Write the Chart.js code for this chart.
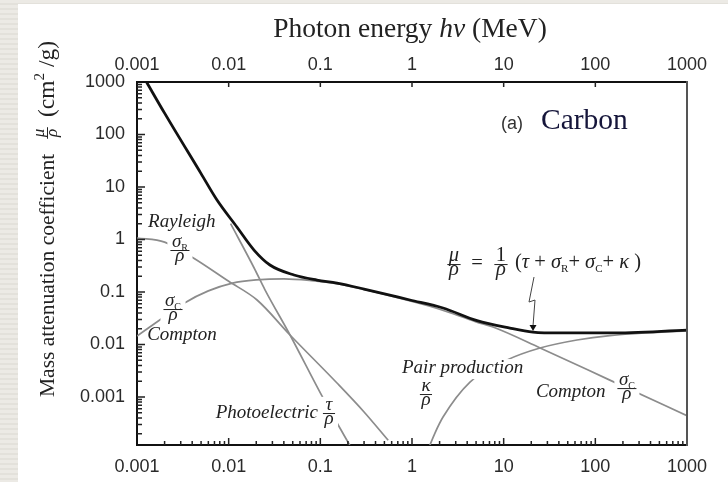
<!DOCTYPE html>
<html>
<head>
<meta charset="utf-8">
<script src="https://cdn.jsdelivr.net/npm/chart.js@4.4.0/dist/chart.umd.min.js"></script>
<style>
  html, body { margin: 0; padding: 0; }
  body {
    width: 728px; height: 482px; overflow: hidden; position: relative;
    background: repeating-linear-gradient(to bottom, #eceae5 0px, #eceae5 3px, #e3e1db 3px, #e3e1db 5px);
  }
  #panel { position: absolute; left: 18px; top: 4px; width: 710px; height: 478px; background: #fff; }
  #wrap { position: absolute; left: 0; top: 0; width: 728px; height: 482px; }
</style>
</head>
<body>
<div id="panel"></div>
<div id="wrap"><canvas id="myChart"></canvas></div>
<script>
// photon energy (MeV) and mass attenuation coefficient (cm2/g) for carbon
const totalE  = [0.00127, 0.002, 0.005, 0.00746, 0.0123, 0.0189, 0.0282, 0.0516, 0.092, 0.152, 0.3, 0.95, 2.18, 5.12, 11.7, 20.9, 41, 144, 1000];
const totalMu = [1000, 255, 18, 5.65, 1.73, 0.63, 0.327, 0.211, 0.169, 0.148, 0.114, 0.0705, 0.0496, 0.0285, 0.0206, 0.0173, 0.0166, 0.0166, 0.0188];

const photoE  = [0.0105, 0.0189, 0.0249, 0.0467, 0.107, 0.195, 0.23];
const photoMu = [2.0, 0.29, 0.11, 0.0152, 0.00096, 0.00015, 0.00009];

const rayleighE  = [0.001, 0.002, 0.004, 0.01, 0.0204, 0.0467, 0.152, 0.3, 0.55];
const rayleighMu = [1.07, 0.89, 0.46, 0.16, 0.0705, 0.0152, 0.00185, 0.00052, 0.00015];

const comptonE  = [0.001, 0.0019, 0.0033, 0.006, 0.011, 0.02, 0.04, 0.08, 0.15, 0.3, 1, 2, 5, 7.65, 25, 144, 1000];
const comptonMu = [0.0145, 0.032, 0.062, 0.105, 0.148, 0.17, 0.178, 0.165, 0.145, 0.112, 0.066, 0.047, 0.027, 0.0215, 0.0086, 0.0021, 0.00044];

const pairE  = [1.5, 1.78, 2.18, 4.29, 10.9, 24.9, 63, 144, 1000];
const pairMu = [0.0001, 0.000206, 0.000416, 0.00193, 0.00507, 0.00857, 0.0122, 0.0148, 0.0182];

const xTicks = [0.001, 0.01, 0.1, 1, 10, 100, 1000];
const xTickLabels = ['0.001', '0.01', '0.1', '1', '10', '100', '1000'];
const yTicks = [0.001, 0.01, 0.1, 1, 10, 100, 1000];
const yTickLabels = ['0.001', '0.01', '0.1', '1', '10', '100', '1000'];

const serif = '"Liberation Serif", "Times New Roman", serif';
const sans = '"Liberation Sans", Arial, sans-serif';
const ink = '#222';
const gray = '#8c8c8c';

function font(size, style) { return (style ? style + ' ' : '') + size + 'px ' + serif; }
const rm = (t, s) => ({t: t, font: font(s)});
const it = (t, s) => ({t: t, font: font(s, 'italic')});
const sub = (t, s) => ({t: t, font: font(Math.round(s * 0.55)), dy: s * 0.2});
const sup = (t, s) => ({t: t, font: font(Math.round(s * 0.62)), dy: -s * 0.42});

// writes a row of text pieces, returns its width
function run(ctx, pieces, x, y, draw) {
  let w = 0;
  pieces.forEach(p => {
    ctx.font = p.font;
    if (draw) ctx.fillText(p.t, x + w, y + (p.dy || 0));
    w += ctx.measureText(p.t).width;
  });
  return w;
}

function frac(ctx, cx, bar, num, den, size, boxed) {
  const wn = run(ctx, num, 0, 0, false), wd = run(ctx, den, 0, 0, false);
  const w = Math.max(wn, wd) + 3;
  if (boxed) {
    ctx.fillStyle = '#fff';
    ctx.fillRect(cx - w / 2 - 3, bar - size * 0.85, w + 6, size * 1.75);
  }
  ctx.fillStyle = ink;
  run(ctx, num, cx - wn / 2, bar - 3, true);
  run(ctx, den, cx - wd / 2, bar + 2 + size * 0.46, true);
  ctx.strokeStyle = ink; ctx.lineWidth = 1;
  ctx.beginPath(); ctx.moveTo(cx - w / 2, bar + 0.5); ctx.lineTo(cx + w / 2, bar + 0.5); ctx.stroke();
  return w;
}

function text(ctx, pieces, x, y, align, boxed) {
  const w = run(ctx, pieces, 0, 0, false);
  const x0 = align === 'right' ? x - w : align === 'center' ? x - w / 2 : x;
  if (boxed) { ctx.fillStyle = '#fff'; ctx.fillRect(x0 - 2, y - 14, w + 4, 20); }
  ctx.fillStyle = ink;
  run(ctx, pieces, x0, y, true);
}

const decorate = {
  id: 'decorate',
  afterDraw(chart) {
    const {ctx, chartArea: a, scales} = chart;
    const px = e => scales.x.getPixelForValue(e);
    const py = v => scales.y.getPixelForValue(v);
    ctx.save();
    ctx.textBaseline = 'alphabetic';

    // right frame
    ctx.strokeStyle = '#555'; ctx.lineWidth = 2;
    ctx.beginPath(); ctx.moveTo(a.right, a.top - 1); ctx.lineTo(a.right, a.bottom + 1); ctx.stroke();

    // inward tick marks
    ctx.strokeStyle = ink; ctx.lineWidth = 1.5;
    ctx.beginPath();
    for (let d = -3; d < 3; d++) {
      for (let m = 1; m < 10; m++) {
        const x = px(m * Math.pow(10, d));
        if (x <= a.left + 1) continue;
        const len = m === 1 ? 7 : 4;
        ctx.moveTo(x, a.bottom); ctx.lineTo(x, a.bottom - len);
        if (m === 1) { ctx.moveTo(x, a.top); ctx.lineTo(x, a.top + 5); }
      }
    }
    for (let d = -4; d < 3; d++) {
      for (let m = 1; m < 10; m++) {
        const v = m * Math.pow(10, d);
        if (v < scales.y.min) continue;
        const y = py(v);
        const len = m === 1 ? 8 : 5;
        ctx.moveTo(a.left, y); ctx.lineTo(a.left + len, y);
      }
    }
    ctx.stroke();

    // curve labels
    const s = 19;
    text(ctx, [it('Rayleigh', s)], px(0.00132), py(1.73), 'left');
    frac(ctx, px(0.00294), py(0.631), [it('σ', s), sub('R', s)], [it('ρ', s)], s, true);
    frac(ctx, px(0.00247), py(0.0474), [it('σ', s), sub('C', s)], [it('ρ', s)], s, true);
    text(ctx, [it('Compton', s)], px(0.00129), py(0.0122), 'left');
    text(ctx, [it('Photoelectric', s)], px(0.0943), py(0.000398), 'right');
    frac(ctx, px(0.1243), py(0.000496), [it('τ', s)], [it('ρ', s)], s, true);
    text(ctx, [it('Pair production', s)], px(0.778), py(0.00286), 'left', true);
    frac(ctx, px(1.42), py(0.00114), [it('κ', s)], [it('ρ', s)], s, true);
    text(ctx, [it('Compton', s)], px(22.5), py(0.001), 'left');
    frac(ctx, px(221), py(0.00148), [it('σ', s), sub('C', s)], [it('ρ', s)], s, true);

    // sum formula with its pointer to the total curve
    const f = 20.5;
    const fx = px(2.87), fy = py(0.341);
    frac(ctx, fx, fy, [it('μ', f)], [it('ρ', f)], f, false);
    text(ctx, [rm('=', f)], fx + 23, fy + 5, 'center');
    frac(ctx, fx + 47, fy, [rm('1', f)], [it('ρ', f)], f, false);
    text(ctx, [rm('(', f), it('τ', f), rm(' + ', f), it('σ', f), sub('R', f), rm('+ ', f),
               it('σ', f), sub('C', f), rm('+ ', f), it('κ', f), rm(' )', f)], fx + 61, fy + 4, 'left');
    const ax = px(20.9), ay = py(0.0173);
    ctx.strokeStyle = '#444'; ctx.lineWidth = 1;
    ctx.beginPath();
    ctx.moveTo(ax + 1, ay - 55); ctx.lineTo(ax - 4, ay - 30); ctx.lineTo(ax + 2, ay - 32); ctx.lineTo(ax, ay - 6);
    ctx.stroke();
    ctx.fillStyle = '#111';
    ctx.beginPath(); ctx.moveTo(ax - 3.5, ay - 7); ctx.lineTo(ax + 3.5, ay - 7); ctx.lineTo(ax, ay - 1); ctx.closePath(); ctx.fill();

    // panel tag
    ctx.fillStyle = '#333'; ctx.font = '18px ' + sans;
    ctx.fillText('(a)', px(9.35), py(127));
    ctx.fillStyle = '#15153a'; ctx.font = font(29.5);
    ctx.fillText('Carbon', px(9.35) + 40, py(127));

    // top title
    const title = [rm('Photon energy ', 27.5), it('hν', 27.5), rm(' (MeV)', 27.5)];
    const tw = run(ctx, title, 0, 0, false);
    ctx.fillStyle = ink;
    run(ctx, title, 410 - tw / 2, 37, true);

    // vertical title
    ctx.translate(54, 397);
    ctx.rotate(-Math.PI / 2);
    run(ctx, [rm('Mass attenuation coefficient', 21.5)], 0, 0, true);
    frac(ctx, 264, -7, [it('μ', 17)], [it('ρ', 17)], 17, false);
    run(ctx, [rm('(cm', 23.5), sup('2', 23.5), rm(' /g)', 23.5)], 280, 0, true);
    ctx.restore();
  }
};

const pts = (xs, ys) => xs.map((x, i) => ({x: x, y: ys[i]}));
const curve = (label, xs, ys, color, width) => ({
  label: label, data: pts(xs, ys), borderColor: color, borderWidth: width,
  pointRadius: 0, fill: false, cubicInterpolationMode: 'monotone'
});

const tickFont = {family: sans, size: 18};
function logAxis(pos, min, values, labels, fit, pad) {
  return {
    type: 'logarithmic', position: pos, min: min, max: 1000,
    grid: {display: true, drawOnChartArea: false, drawTicks: false},
    border: {display: true, color: '#111', width: 2},
    afterBuildTicks: s => { s.ticks = values.map(v => ({value: v})); },
    afterFit: fit,
    ticks: {autoSkip: false, maxRotation: 0, minRotation: 0, padding: pad, color: '#2a2a2a', font: tickFont,
            callback: (v, i) => labels[i]}
  };
}

new Chart(document.getElementById('myChart'), {
  type: 'line',
  data: {
    datasets: [
      curve('total', totalE, totalMu, '#111', 2.8),
      curve('photoelectric', photoE, photoMu, gray, 1.7),
      curve('rayleigh', rayleighE, rayleighMu, gray, 1.7),
      curve('compton', comptonE, comptonMu, gray, 1.7),
      curve('pair', pairE, pairMu, gray, 1.7)
    ]
  },
  options: {
    responsive: true,
    maintainAspectRatio: false,
    animation: false,
    events: [],
    layout: {padding: {left: 0, right: 41, top: 0, bottom: 0}},
    plugins: {legend: {display: false}, tooltip: {enabled: false}},
    scales: {
      x: logAxis('bottom', 0.001, xTicks, xTickLabels, s => { s.height = 37; }, 11),
      xTop: logAxis('top', 0.001, xTicks, xTickLabels, s => { s.height = 82; }, 6),
      y: logAxis('left', 1.22e-4, yTicks, yTickLabels, s => { s.width = 137; }, 12)
    }
  },
  plugins: [decorate]
});
</script>
</body>
</html>
